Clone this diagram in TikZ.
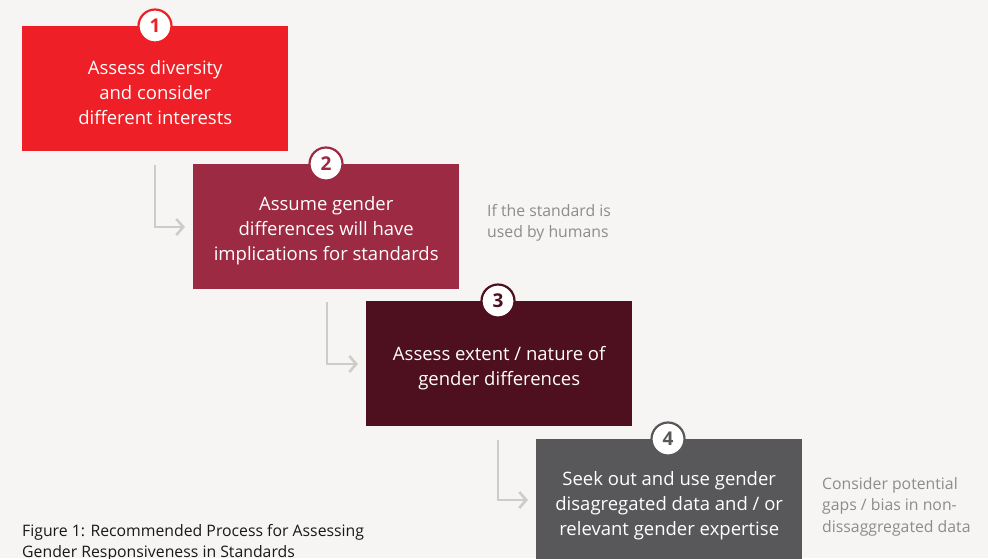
\documentclass[tikz,border=0pt]{standalone}
\usepackage{fontspec}
\setmainfont{Open Sans}
\usetikzlibrary{arrows.meta}
\definecolor{bg}{HTML}{F7F5F3}
\definecolor{stepA}{HTML}{EE1F26}
\definecolor{stepB}{HTML}{9B2A42}
\definecolor{stepC}{HTML}{4E0F1E}
\definecolor{stepD}{HTML}{58585A}
\definecolor{link}{HTML}{CFCBC8}
\definecolor{note}{HTML}{8C8C8C}
\begin{document}
\begin{tikzpicture}[x=1pt,y=-1pt,
  stepbox/.style={minimum width=266pt,minimum height=125pt,inner sep=0pt,anchor=north west},
  steplabel/.style={text=white,align=center,font=\fontsize{18.5}{25}\selectfont,inner sep=0pt},
  badge/.style={circle,fill=white,draw=#1,line width=2.2pt,minimum size=33pt,inner sep=0pt,
    text=#1,font=\fontsize{19}{19}\selectfont\bfseries},
  linkline/.style={draw=link,line width=2.6pt,-{Straight Barb[length=7pt,width=16pt,line width=2.6pt]}},
  sidenote/.style={anchor=north west,align=left,text=note,font=\fontsize{15.8}{21.5}\selectfont,inner sep=0pt},
]
\useasboundingbox (0,0) rectangle (988,558);
\clip (0,0) rectangle (988,558);
\fill[bg] (0,0) rectangle (988,558);

% process steps
\node[stepbox,fill=stepA] (s1) at (22,26) {};
\node[stepbox,fill=stepB] (s2) at (193,164) {};
\node[stepbox,fill=stepC] (s3) at (366,301) {};
\node[stepbox,fill=stepD] (s4) at (536,439) {};

% step texts, set slightly below each box centre
\node[steplabel] (t1) at ([yshift=-4pt]s1.center) {Assess diversity\\and consider\\different interests};
\node[steplabel] (t2) at ([yshift=-4pt]s2.center) {Assume gender\\differences will have\\implications for standards};
\node[steplabel] (t3) at ([yshift=-4pt]s3.center) {Assess extent / nature of\\gender differences};
\node[steplabel] (t4) at ([yshift=-4pt]s4.center) {Seek out and use gender\\disagregated data and / or\\relevant gender expertise};

% numbered badges on the top edges
\node[badge=stepA] (b1) at (155,26) {1};
\node[badge=stepB] (b2) at (326,164) {2};
\node[badge=stepC] (b3) at (498,301) {3};
\node[badge=stepD] (b4) at (668,439) {4};

% connectors between the steps
\coordinate (c1) at (155,165);
\coordinate (c2) at (327,302);
\coordinate (c3) at (498,440);
\draw[linkline] (c1) |- ([xshift=-8pt,yshift=-63pt]s2.north west);
\draw[linkline] (c2) |- ([xshift=-8pt,yshift=-63pt]s3.north west);
\draw[linkline] (c3) |- ([xshift=-8pt,yshift=-61pt]s4.north west);

% side notes
\node[sidenote] (n2) at (487,204) {If the standard is\\used by humans};
\node[sidenote] (n4) at (822,477) {Consider potential\\gaps / bias in non-\\dissaggregated data};

% caption
\node[anchor=north west,align=left,inner sep=0pt,text=black!90,font=\fontsize{15.8}{21.5}\selectfont] (cap) at (22,524)
  {Figure 1: Recommended Process for Assessing\\Gender Responsiveness in Standards};
\end{tikzpicture}
\end{document}
